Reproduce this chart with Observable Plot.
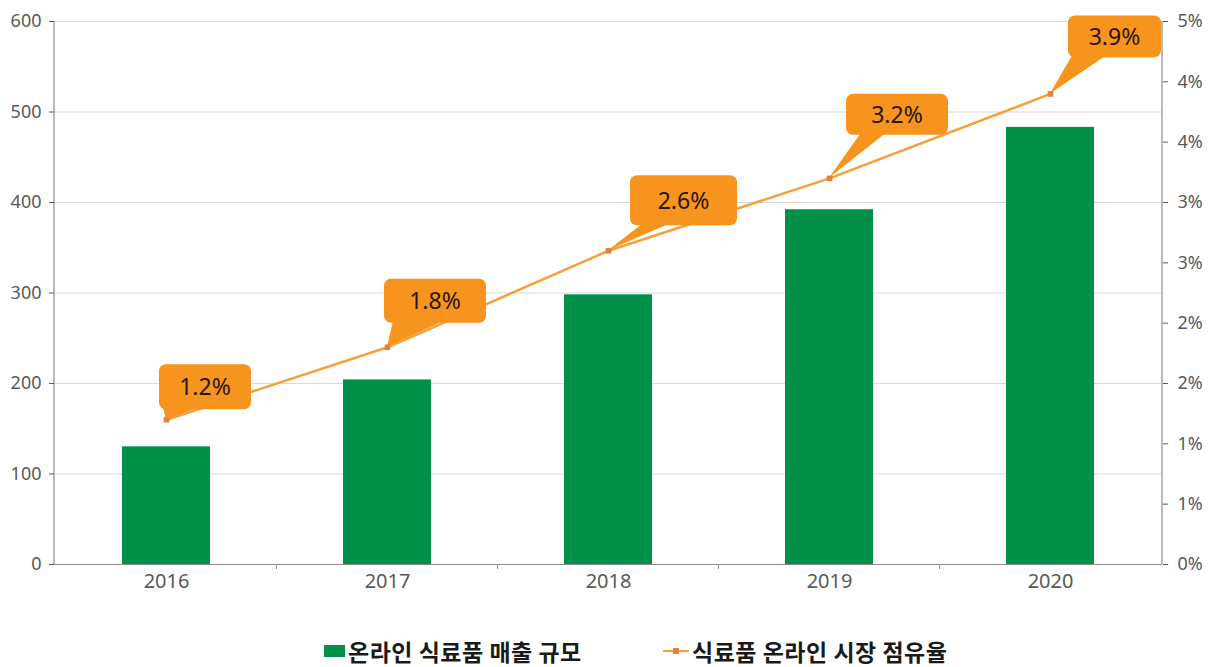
<!DOCTYPE html>
<html>
<head>
<meta charset="utf-8">
<script src="https://cdn.jsdelivr.net/npm/d3@7"></script>
<script src="https://cdn.jsdelivr.net/npm/@observablehq/plot@0.6"></script>
<style>
  html, body { margin: 0; padding: 0; background: #fff; }
  #chart { width: 1214px; height: 610px; }
  #legend { position: relative; width: 1214px; height: 57px; font-family: "Noto Sans CJK KR", "Noto Sans", sans-serif; }
  .item { position: absolute; top: 29px; display: flex; align-items: center; font-weight: 700; font-size: 23px; color: #1a1a1a; letter-spacing: 0.5px; line-height: 24px; white-space: nowrap; }
  .swatch-bar { width: 21px; height: 12px; background: #00904A; margin-right: 3px; }
  .swatch-line { position: relative; width: 26px; height: 12px; margin-right: 3px; }
  .swatch-line::before { content: ""; position: absolute; left: 0; right: 0; top: 5px; height: 2px; background: #F5A03A; }
  .swatch-line::after { content: ""; position: absolute; left: 10px; top: 3px; width: 6px; height: 6px; background: #E5823A; }
</style>
</head>
<body>
<div id="chart"></div>
<div id="legend"></div>
<script>
// ---- data ----
const years = ["2016", "2017", "2018", "2019", "2020"];
const salesValues = [130, 204, 298, 392, 483];          // 온라인 식료품 매출 규모 (left axis)
const shareValues = [1.2, 1.8, 2.6, 3.2, 3.9];          // 식료품 온라인 시장 점유율 (%, right axis)
const shareLabels = ["1.2%", "1.8%", "2.6%", "3.2%", "3.9%"];
const salesTicks = [0, 100, 200, 300, 400, 500, 600];
const shareTicks = [0, 0.5, 1, 1.5, 2, 2.5, 3, 3.5, 4, 4.5];
const legendLabels = ["온라인 식료품 매출 규모", "식료품 온라인 시장 점유율"];

const SALES_MAX = 600, SHARE_MAX = 4.5;
const shareToLeft = s => s * SALES_MAX / SHARE_MAX;

const rows = years.map((y, i) => ({
  year: y, sales: salesValues[i], share: shareValues[i],
  shareY: shareToLeft(shareValues[i]), label: shareLabels[i]
}));

// callout box layout relative to its point (style only)
const calloutLayout = [
  {left: -7, top: -55, w: 92,  h: 45, t0: -3, t1: 33},
  {left: -3, top: -68, w: 102, h: 44, t0: 6,  t1: 57},
  {left: 22, top: -75, w: 107, h: 50, t0: 35, t1: 62},
  {left: 17, top: -84, w: 102, h: 41, t0: 32, t1: 57},
  {left: 18, top: -78, w: 93,  h: 42, t0: 22, t1: 56}
];

const AXIS_COLOR = "#8c8c8c";
const TEXT_COLOR = "#595959";

function center(x, v) {
  const bw = typeof x.bandwidth === "function" ? x.bandwidth() : 0;
  return x(v) + bw / 2;
}

function axisLines(index, scales, values, dims) {
  const {width, height, marginLeft, marginRight, marginTop, marginBottom} = dims;
  const g = d3.create("svg:g");
  [marginLeft, width - marginRight].forEach(px => {
    g.append("line").attr("x1", px).attr("x2", px)
      .attr("y1", marginTop).attr("y2", height - marginBottom)
      .attr("stroke", AXIS_COLOR).attr("stroke-width", 1.2);
  });
  return g.node();
}

function bandBoundaryTicks(index, scales, values, dims) {
  const {height, marginBottom} = dims;
  const x = scales.x;
  const g = d3.create("svg:g");
  for (let i = 1; i < years.length; i++) {
    const px = (center(x, years[i - 1]) + center(x, years[i])) / 2;
    g.append("line").attr("x1", px).attr("x2", px)
      .attr("y1", height - marginBottom).attr("y2", height - marginBottom + 5)
      .attr("stroke", AXIS_COLOR);
  }
  return g.node();
}

function callouts(index, scales, values, dims) {
  const g = d3.create("svg:g");
  rows.forEach((d, i) => {
    const px = center(scales.x, d.year);
    const py = scales.y(d.shareY);
    const L = calloutLayout[i];
    const bx = px + L.left, by = py + L.top;
    g.append("rect").attr("x", bx).attr("y", by).attr("width", L.w).attr("height", L.h)
      .attr("rx", 7).attr("fill", "#F7941D");
    g.append("path")
      .attr("d", `M${px},${py}L${px + L.t0},${by + L.h - 2}L${px + L.t1},${by + L.h - 2}Z`)
      .attr("fill", "#F7941D");
    g.append("text").attr("x", bx + L.w / 2).attr("y", by + L.h / 2)
      .attr("text-anchor", "middle").attr("dy", "0.36em")
      .attr("font-family", '"Noto Sans", sans-serif').attr("font-size", 23)
      .attr("fill", "#2a1608").text(d.label);
  });
  return g.node();
}

const chart = Plot.plot({
  width: 1214,
  height: 610,
  marginLeft: 54,
  marginRight: 52,
  marginTop: 21,
  marginBottom: 46,
  style: {fontFamily: '"Noto Sans", sans-serif', background: "#fff"},
  x: {type: "band", domain: years, paddingInner: 0.6, paddingOuter: 0.3, label: null},
  y: {domain: [0, SALES_MAX], label: null},
  marks: [
    Plot.gridY(salesTicks.slice(1), {stroke: "#d9d9d9", strokeOpacity: 1}),
    Plot.barY(rows, {x: "year", y: "sales", fill: "#00904A"}),
    Plot.ruleY([0], {stroke: AXIS_COLOR, strokeWidth: 1.2}),
    axisLines,
    bandBoundaryTicks,
    Plot.axisX({tickSize: 0, tickPadding: 9, fontSize: 20, color: TEXT_COLOR, label: null}),
    Plot.axisY({ticks: salesTicks, tickSize: 5, tickPadding: 8, fontSize: 18, color: TEXT_COLOR, label: null}),
    Plot.axisY({anchor: "right", ticks: shareTicks.map(shareToLeft), tickSize: 5, tickPadding: 10,
      fontSize: 18, color: TEXT_COLOR, label: null,
      tickFormat: v => Math.round(v * SHARE_MAX / SALES_MAX + 1e-9) + "%"}),
    Plot.line(rows, {x: "year", y: "shareY", stroke: "#F5A03A", strokeWidth: 2.5}),
    callouts,
    Plot.dot(rows, {x: "year", y: "shareY", symbol: "square", r: 3.2, fill: "#E5823A", stroke: "none"})
  ]
});
document.getElementById("chart").append(chart);

// ---- legend (HTML, below the SVG) ----
const legend = d3.select("#legend");
const it1 = legend.append("div").attr("class", "item").style("left", "324px");
it1.append("span").attr("class", "swatch-bar");
it1.append("span").text(legendLabels[0]);
const it2 = legend.append("div").attr("class", "item").style("left", "663px");
it2.append("span").attr("class", "swatch-line");
it2.append("span").text(legendLabels[1]);
</script>
</body>
</html>
